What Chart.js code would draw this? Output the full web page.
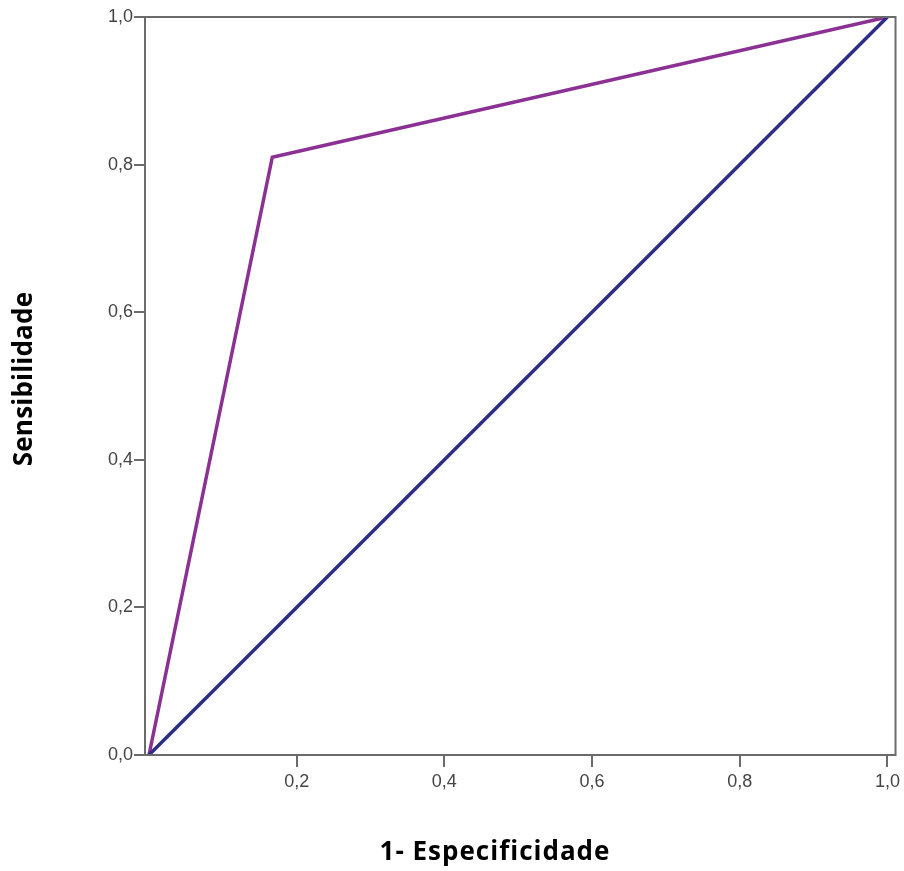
<!DOCTYPE html>
<html>
<head>
<meta charset="utf-8">
<script src="https://cdn.jsdelivr.net/npm/chart.js@4"></script>
<style>
  html, body { margin: 0; padding: 0; background: #fff; }
  #wrap { width: 904px; height: 871px; }
</style>
</head>
<body>
<div id="wrap"><canvas id="roc" width="904" height="871"></canvas></div>
<script>
// ROC curve points (1 - especificidade, sensibilidade)
const rocX = [0, 0.167, 1]
const rocY = [0, 0.81, 1]
// reference diagonal
const refX = [0, 1]
const refY = [0, 1]
// tick labels
const xTicks = [0.2, 0.4, 0.6, 0.8, 1.0]
const yTicks = [0, 0.2, 0.4, 0.6, 0.8, 1.0]
const xTitle = "1- Especificidade"
const yTitle = "Sensibilidade"

const toPts = (xs, ys) => xs.map((x, i) => ({ x: x, y: ys[i] }))
const fmt = (v) => Number(v).toFixed(1).replace(".", ",")

// gray box around the plot area, plus the two axis titles
const frame = {
  id: "frame",
  afterDatasetsDraw(chart) {
    const { ctx, chartArea: a } = chart
    ctx.save()
    ctx.strokeStyle = "#6b6b6b"
    ctx.lineWidth = 2
    ctx.strokeRect(a.left, a.top, a.right - a.left, a.bottom - a.top)
    ctx.restore()
  },
  afterDraw(chart) {
    const { ctx } = chart
    ctx.save()
    ctx.fillStyle = "#000"
    ctx.font = "bold 26px 'Open Sans', 'Noto Sans'"
    ctx.textAlign = "center"
    ctx.textBaseline = "middle"
    ctx.letterSpacing = "1px"
    ctx.fillText(xTitle, 495, 853)
    ctx.translate(25, 379)
    ctx.rotate(-Math.PI / 2)
    ctx.letterSpacing = "0.2px"
    ctx.fillText(yTitle, 0, 0)
    ctx.restore()
  },
}

new Chart(document.getElementById("roc"), {
  type: "scatter",
  data: {
    datasets: [
      {
        data: toPts(refX, refY),
        showLine: true,
        borderColor: "#2c2d85",
        borderWidth: 3.5,
        pointRadius: 0,
      },
      {
        data: toPts(rocX, rocY),
        showLine: true,
        borderColor: "#8b3194",
        borderWidth: 3.5,
        pointRadius: 0,
      },
    ],
  },
  plugins: [frame],
  options: {
    responsive: false,
    animation: false,
    layout: { padding: { top: 17, right: 8, left: 0, bottom: 0 } },
    plugins: { legend: { display: false }, tooltip: { enabled: false } },
    scales: {
      x: {
        type: "linear",
        min: -0.0054,
        max: 1.011,
        afterBuildTicks: (s) => { s.ticks = xTicks.map((v) => ({ value: v })) },
        afterFit: (s) => { s.height = 116 },
        grid: { drawOnChartArea: false, tickLength: 12, color: "#6b6b6b", lineWidth: 2 },
        border: { display: false },
        ticks: {
          callback: (v) => fmt(v),
          color: "#444",
          font: { family: "Arial, 'Liberation Sans'", size: 18 },
          padding: 4,
          maxRotation: 0,
        },
      },
      y: {
        type: "linear",
        min: 0,
        max: 1,
        afterBuildTicks: (s) => { s.ticks = yTicks.map((v) => ({ value: v })) },
        afterFit: (s) => { s.width = 145 },
        grid: { drawOnChartArea: false, tickLength: 11, color: "#6b6b6b", lineWidth: 2 },
        border: { display: false },
        ticks: {
          callback: (v) => fmt(v),
          color: "#444",
          font: { family: "Arial, 'Liberation Sans'", size: 18 },
          padding: 1,
        },
      },
    },
  },
})
</script>
</body>
</html>
